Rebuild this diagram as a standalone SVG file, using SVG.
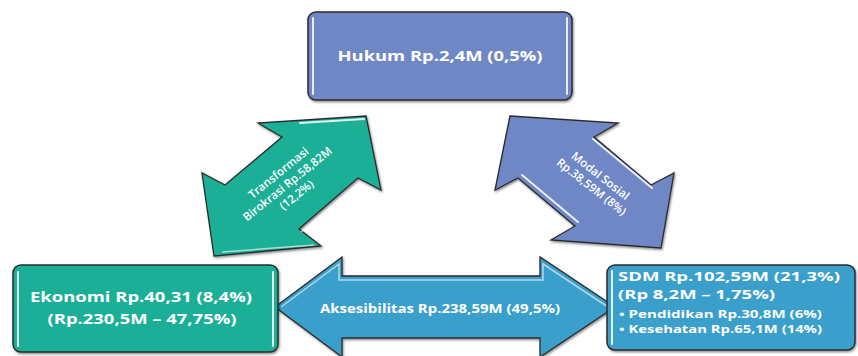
<svg xmlns="http://www.w3.org/2000/svg" width="858" height="356" viewBox="0 0 858 356">
<defs>
<filter id="sh" x="-5%" y="-5%" width="110%" height="115%">
<feDropShadow dx="1" dy="1.5" stdDeviation="1" flood-color="#000" flood-opacity="0.45"/>
</filter>
<style>
.box{stroke:#2b2b2b;stroke-width:1.5;filter:url(#sh)}
.arr{stroke:#2b2b2b;stroke-width:1.3;stroke-linejoin:miter;filter:url(#sh)}
.hl{fill:none;stroke:#ffffff;stroke-width:2;stroke-linecap:round;opacity:0.85}
.hls{fill:none;stroke:#ffffff;stroke-width:1.5;opacity:0.6}
.t{fill:#ffffff;font-family:"Open Sans","Noto Sans","DejaVu Sans",sans-serif;font-weight:700}
.tn{fill:#ffffff;font-family:"Open Sans","Noto Sans","DejaVu Sans",sans-serif;font-weight:600}
.blue{fill:#3a9fcc}
.green{fill:#1faf97}
.purple{fill:#7087c6}
</style>
</defs>
<rect width="858" height="356" fill="#ffffff"/>
<g id="connectors">
<g id="arrow-transformasi">
<polygon class="arr green" points="366,116 381,190 358,178 299,229 321,246 214,256 202,173 225,185 282,137 258,123"/>
<polyline class="hl" points="300,123 364,119"/>
<polyline class="hls" points="360,182 301,232"/>
<polyline class="hls" points="222,252 314,245"/>
<text class="tn" font-size="11.5" text-anchor="middle" transform="translate(281,176) rotate(-39)">Transformasi</text>
<text class="tn" font-size="11.5" text-anchor="middle" transform="translate(290,187) rotate(-39)">Birokrasi Rp.58,82M</text>
<text class="tn" font-size="11.5" text-anchor="middle" transform="translate(299,198) rotate(-39)">(12,2%)</text>
</g>
<g id="arrow-modal-sosial">
<polygon class="arr purple" points="510,116 495,190 518,178 575,226 551,240 661,248 674,173 651,185 594,137 618,123"/>
<polyline class="hl" points="593,139 652,188"/>
<polyline class="hl" points="522,175 578,222"/>
<text class="tn" font-size="11.5" text-anchor="middle" transform="translate(598,179) rotate(38)">Modal Sosial</text>
<text class="tn" font-size="11.5" text-anchor="middle" transform="translate(589,190) rotate(38)">Rp.38,59M (8%)</text>
</g>
<g id="arrow-aksesibilitas">
<polygon class="arr blue" points="275,307 342,257 342,276 540,276 540,257 615,307 540,357 540,338 342,338 342,357"/>
<polyline class="hls" stroke="#bfe6f7" points="281,307 339,264 339,280 543,280 543,264 608,307"/>
<text class="t" font-size="13" text-anchor="middle" x="440" y="313" textLength="240" lengthAdjust="spacingAndGlyphs">Aksesibilitas Rp.238,59M (49,5%)</text>
</g>
</g>
<g id="node-hukum">
<rect class="box purple" x="308" y="12" width="264" height="88" rx="8"/>
<line class="hl" x1="313" y1="18" x2="313" y2="94"/>
<line class="hl" x1="567" y1="18" x2="567" y2="94"/>
<text class="t" font-size="15" text-anchor="middle" x="440" y="61" textLength="205" lengthAdjust="spacingAndGlyphs">Hukum Rp.2,4M (0,5%)</text>
</g>
<g id="node-ekonomi">
<rect class="box green" x="13" y="265" width="265" height="87" rx="8"/>
<line class="hl" x1="18" y1="272" x2="18" y2="346"/>
<line class="hl" x1="273" y1="272" x2="273" y2="346"/>
<text class="t" font-size="15" text-anchor="middle" x="141" y="302" textLength="222" lengthAdjust="spacingAndGlyphs">Ekonomi Rp.40,31 (8,4%)</text>
<text class="t" font-size="15" text-anchor="middle" x="142" y="324" textLength="189" lengthAdjust="spacingAndGlyphs">(Rp.230,5M – 47,75%)</text>
</g>
<g id="node-sdm">
<rect class="box blue" x="607" y="265" width="248" height="85" rx="8"/>
<line class="hl" x1="612" y1="271" x2="612" y2="344"/>
<text class="t" font-size="13" x="618" y="281" textLength="222" lengthAdjust="spacingAndGlyphs">SDM Rp.102,59M (21,3%)</text>
<text class="t" font-size="13" x="618" y="299" textLength="157" lengthAdjust="spacingAndGlyphs">(Rp 8,2M – 1,75%)</text>
<text class="t" font-size="11" x="619" y="318" textLength="203" lengthAdjust="spacingAndGlyphs">•  Pendidikan Rp.30,8M (6%)</text>
<text class="t" font-size="11" x="619" y="333" textLength="203" lengthAdjust="spacingAndGlyphs">•  Kesehatan Rp.65,1M (14%)</text>
</g>
</svg>
